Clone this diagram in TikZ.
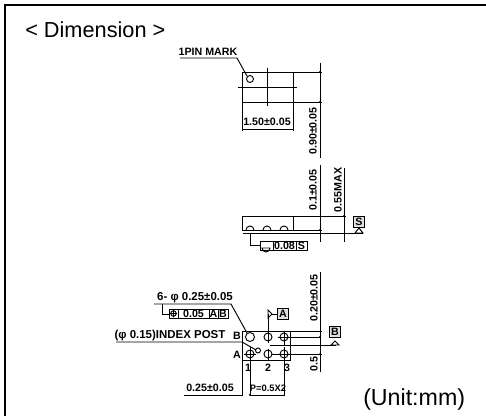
\documentclass[tikz,border=0pt]{standalone}
\usepackage{fontspec}
\setmainfont{Liberation Sans}
\tikzset{
  x=0.75pt,y=-0.75pt,
  dim/.style={line width=0.7pt,black},
  dimdot/.style={fill=black,draw=none},
  lab/.style={inner sep=0pt,font=\bfseries\fontsize{8}{9}\selectfont},
  vlab/.style={lab,rotate=90},
  big/.style={inner sep=0pt,font=\fontsize{16.3}{18}\selectfont},
  datum/.style={draw,line width=0.7pt,fill=black!12,inner sep=0pt,minimum width=8.5pt,minimum height=8pt,font=\bfseries\fontsize{8}{9}\selectfont},
}
\begin{document}
\begin{tikzpicture}
\useasboundingbox (0,0) rectangle (486,416);
\draw[line width=1.3pt] (5,416) -- (5,5) -- (486,5);
\node[big,anchor=west] (title) at (25,30) {< Dimension >};
\node[big,anchor=west,font=\fontsize{17.4}{19}\selectfont] (unit) at (363,399) {(Unit:mm)};
% top view
\draw[dim] (242,72) rectangle (293,102);
\draw[dim] (267,68) -- (267,106);
\draw[dim] (238,87) -- (297,87);
\draw[dim] (250,79) circle (3.5);
\node[lab] (pin) at (208,52) {1PIN MARK};
\draw[dim] (180,58) -- (237,58) -- (247,76);
\draw[dim] (293,72) -- (322,72) (293,102) -- (322,102);
\draw[dim] (320,63) -- (320,158);
\fill[dimdot] (320,72) circle (1) (320,102) circle (1);
\node[vlab] (d90) at (313,131) {0.90±0.05};
\draw[dim] (242,102) -- (242,131) (293,102) -- (293,131);
\draw[dim] (242,129) -- (293,129);
\node[lab] (d150) at (267,122) {1.50±0.05};
% side view
\draw[dim] (242,216) rectangle (293,230);
\draw[dim] (293,216) -- (346,216);
\draw[dim] (293,230) -- (322,230);
\draw[dim] (243,233) -- (363,233);
\foreach \c in {250,267,284} \draw[dim] (\c-4,230) arc[start angle=180,end angle=360,radius=4];
\draw[dim] (320,165) -- (320,242);
\draw[dim] (344,168) -- (344,242);
\fill[dimdot] (320,230) circle (1) (344,216) circle (1);
\node[vlab] (d01) at (313,190) {0.1±0.05};
\node[vlab] (d55) at (338,190) {0.55MAX};
\node[datum] (S) at (359,222) {S};
\draw[dim] (359,228) -- (355,233) -- (363,233) -- cycle;
\draw[dim] (260,241) rectangle (307,250);
\draw[dim] (273,241) -- (273,250) (296,241) -- (296,250);
\draw[dim] (262,248) arc[start angle=180,end angle=0,radius=4] -- cycle;
\node[lab] at (284.5,245.5) {0.08};
\node[lab] at (301.5,245.5) {S};
\draw[dim] (250,233) -- (250,245) -- (260,245);
% bottom view
\draw[dim] (242,331) rectangle (290,360);
\draw[dim] (250,337) circle (4.5);
\draw[dim] (268,337) circle (4);
\draw[dim] (284,337) circle (4);
\draw[dim] (250,354) circle (4);
\draw[dim] (268,354) circle (4);
\draw[dim] (284,354) circle (4);
\draw[dim] (250,347) -- (250,396) (244,354) -- (256,354);
\draw[dim] (268,314) -- (268,343) (268,349) -- (268,360);
\draw[dim] (284,331) -- (284,345) (278,337) -- (290,337);
\draw[dim] (284,347) -- (284,396) (278,354) -- (290,354);
\draw[dim] (290,331) -- (322,331) (290,337) -- (320,337) (270,345) -- (336,345) (272,354) -- (322,354);
\draw[dim] (320,272) -- (320,372);
\fill[dimdot] (320,337) circle (1) (320,354) circle (1);
\node[vlab] (d20) at (314,298) {0.20±0.05};
\node[vlab] (d5) at (314,364) {0.5};
\node[datum] (B) at (335,332) {B};
\draw[dim] (335,341) -- (331,345) -- (339,345) -- cycle;
\node[datum] (A) at (283,314) {A};
\draw[dim] (268,310) -- (272,314) -- (268,318) -- cycle;
\draw[dim] (272,314) -- (278,314);
\node[lab] (pb) at (237,336) {B};
\node[lab] (pa) at (237,355) {A};
\node[lab] (n1) at (248,368) {1};
\node[lab] (n2) at (268,368) {2};
\node[lab] (n3) at (287,368) {3};
\node[lab,font=\bfseries\fontsize{8.6}{10}\selectfont] (h6) at (195,298) {6- φ 0.25±0.05};
\draw[dim] (154,304) -- (231,304) -- (247,333);
\draw[dim] (162,304) -- (162,314) -- (169,314);
\draw[dim] (169,309) rectangle (228,318);
\draw[dim] (178,309) -- (178,318) (209,309) -- (209,318) (218,309) -- (218,318);
\draw[dim] (173.5,313.5) circle (2.8) (173.5,309.5) -- (173.5,317.5) (170,313.5) -- (177,313.5);
\node[lab] at (193.5,313.8) {0.05};
\node[lab] at (213.5,313.8) {A};
\node[lab] at (223,313.8) {B};
\node[lab,font=\bfseries\fontsize{8.6}{10}\selectfont] (idx) at (170,335.5) {(φ 0.15)INDEX POST};
\draw[dim] (116,342) -- (242,342) -- (256,350);
\draw[dim] (258,350.5) circle (2.5);
\draw[dim] (242,360) -- (242,396);
\draw[dim] (184,395) -- (242,395) (250,395) -- (284,395);
\fill[dimdot] (250,395) circle (1.2);
\node[lab] (d25) at (210,388) {0.25±0.05};
\node[lab,font=\bfseries\fontsize{7}{8}\selectfont] (p05) at (268,388) {P=0.5X2};
\end{tikzpicture}
\end{document}
